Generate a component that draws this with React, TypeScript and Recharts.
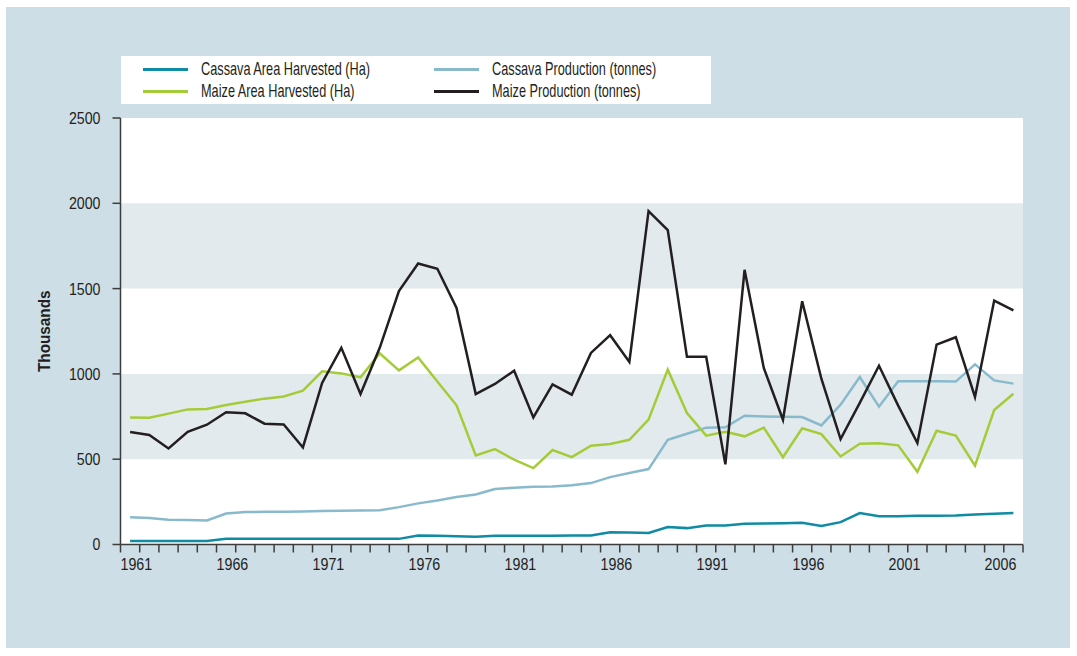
import { LineChart, Line, XAxis, YAxis, ReferenceArea } from 'recharts';

// Crop series in thousands (Ha / tonnes), 1961-2007
const years = [
  1961, 1962, 1963, 1964, 1965, 1966, 1967, 1968, 1969, 1970,
  1971, 1972, 1973, 1974, 1975, 1976, 1977, 1978, 1979, 1980,
  1981, 1982, 1983, 1984, 1985, 1986, 1987, 1988, 1989, 1990,
  1991, 1992, 1993, 1994, 1995, 1996, 1997, 1998, 1999, 2000,
  2001, 2002, 2003, 2004, 2005, 2006, 2007,
];

const cassavaArea = [
  20, 20, 20, 20, 20, 33, 33, 33, 33, 33,
  33, 33, 33, 33, 33, 53, 51, 49, 45, 52,
  52, 52, 52, 53, 53, 72, 70, 68, 102, 96,
  111, 111, 121, 123, 125, 127, 108, 131, 184, 166,
  166, 168, 168, 170, 176, 180, 184,
];

const cassavaProduction = [
  160, 156, 145, 143, 141, 182, 190, 192, 192, 194,
  196, 198, 200, 201, 219, 241, 258, 278, 293, 325,
  333, 338, 340, 348, 360, 395, 419, 442, 614, 649,
  685, 687, 755, 751, 749, 747, 698, 820, 982, 808,
  957, 957, 957, 955, 1056, 962, 943,
];

const maizeArea = [
  745, 743, 767, 792, 794, 818, 837, 855, 868, 902,
  1015, 1003, 980, 1121, 1021, 1097, 956, 816, 522, 559,
  497, 448, 554, 512, 579, 589, 614, 732, 1025, 771,
  638, 661, 634, 685, 512, 681, 647, 516, 591, 593,
  581, 426, 667, 638, 462, 788, 884,
];

const maizeProduction = [
  659, 642, 563, 661, 702, 775, 769, 708, 704, 569,
  947, 1153, 882, 1153, 1485, 1647, 1616, 1387, 882, 941,
  1019, 745, 939, 878, 1123, 1227, 1070, 1954, 1843, 1100,
  1100, 470, 1610, 1035, 731, 1426, 972, 618, 830, 1048,
  814, 595, 1172, 1215, 865, 1430, 1373,
];

const xLabels = [1961, 1966, 1971, 1976, 1981, 1986, 1991, 1996, 2001, 2006];
const yTicks = [0, 500, 1000, 1500, 2000, 2500];

const COLORS = {
  cassavaArea: '#0f8ba3',
  cassavaProduction: '#89bacc',
  maizeArea: '#a4cc38',
  maizeProduction: '#231f20',
};

// no condensed Helvetica offline: Liberation Sans squeezed horizontally instead
const FONT = "'Liberation Sans', Arial, sans-serif";
const TEXT = '#231f20';
const AXIS = '#3d3d3d';

const data = years.map((year, i) => ({
  year,
  cassavaArea: cassavaArea[i],
  cassavaProduction: cassavaProduction[i],
  maizeArea: maizeArea[i],
  maizeProduction: maizeProduction[i],
}));

// tick marks sit between years, labels start at the left edge of their year
const yearEdges = [...years.map((y) => y - 0.5), years[years.length - 1] + 0.5];

const legendItems = [
  { key: 'cassavaArea', label: 'Cassava Area Harvested (Ha)', col: 0, row: 0 },
  { key: 'maizeArea', label: 'Maize Area Harvested (Ha)', col: 0, row: 1 },
  { key: 'cassavaProduction', label: 'Cassava Production (tonnes)', col: 1, row: 0 },
  { key: 'maizeProduction', label: 'Maize Production (tonnes)', col: 1, row: 1 },
] as const;

function YearTick({ x, y, payload }: any) {
  const year = payload.value + 0.5;
  if (!xLabels.includes(year)) return <g />;
  return (
    <g transform={`translate(${x},${y + 15})`}>
      <text transform="scale(0.84,1)" textAnchor="start" fill={TEXT} fontSize={17} fontFamily={FONT}>
        {year}
      </text>
    </g>
  );
}

function ValueTick({ x, y, payload }: any) {
  return (
    <g transform={`translate(${x},${y})`}>
      <text transform="scale(0.86,1)" textAnchor="end" dy="0.36em" fill={TEXT} fontSize={16.5} fontFamily={FONT}>
        {payload.value}
      </text>
    </g>
  );
}

function ThousandsLabel({ viewBox }: any) {
  const cx = viewBox.x + 3;
  const cy = viewBox.y + viewBox.height / 2;
  return (
    <g transform={`translate(${cx},${cy}) rotate(-90)`}>
      <text
        transform="scale(0.9,1)"
        textAnchor="middle"
        dominantBaseline="central"
        fill={TEXT}
        fontSize={17}
        fontWeight="bold"
        fontFamily={FONT}
      >
        Thousands
      </text>
    </g>
  );
}

function ChartLegend() {
  return (
    <div
      style={{
        position: 'absolute',
        left: 121,
        top: 56,
        width: 590,
        height: 48,
        background: '#ffffff',
        fontFamily: FONT,
        fontSize: 19,
        color: TEXT,
      }}
    >
      {legendItems.map((item) => (
        <div
          key={item.key}
          style={{
            position: 'absolute',
            left: item.col === 0 ? 22 : 313,
            top: item.row === 0 ? 2 : 24,
            height: 22,
            display: 'flex',
            alignItems: 'center',
            whiteSpace: 'nowrap',
          }}
        >
          <span
            style={{
              display: 'inline-block',
              width: 45,
              height: 3,
              background: COLORS[item.key],
              marginRight: 13,
            }}
          />
          <span style={{ display: 'inline-block', transform: 'scaleX(0.67)', transformOrigin: 'left center' }}>
            {item.label}
          </span>
        </div>
      ))}
    </div>
  );
}

export default function App() {
  return (
    <div style={{ position: 'absolute', left: 0, top: 0, width: 1077, height: 656, background: '#ffffff' }}>
      <div style={{ position: 'absolute', left: 6, top: 7, width: 1064, height: 641, background: '#cddee6' }} />
      <ChartLegend />
      <div style={{ position: 'absolute', left: 0, top: 0 }}>
        <LineChart
          width={1077}
          height={656}
          data={data}
          margin={{ top: 118, right: 54, bottom: 71.5, left: 40.5 }}
        >
          <ReferenceArea y1={0} y2={2500} fill="#ffffff" fillOpacity={1} stroke="none" />
          <ReferenceArea y1={500} y2={1000} fill="#e2eaee" fillOpacity={1} stroke="none" />
          <ReferenceArea y1={1500} y2={2000} fill="#e2eaee" fillOpacity={1} stroke="none" />
          <XAxis
            dataKey="year"
            type="number"
            domain={[1960.5, 2007.5]}
            ticks={yearEdges}
            interval={0}
            height={40}
            tickSize={8}
            tick={<YearTick />}
            axisLine={{ stroke: AXIS, strokeWidth: 1.5 }}
            tickLine={{ stroke: AXIS, strokeWidth: 1.5 }}
          />
          <YAxis
            domain={[0, 2500]}
            ticks={yTicks}
            interval={0}
            width={80}
            tickSize={8}
            tickMargin={12}
            tick={<ValueTick />}
            axisLine={{ stroke: AXIS, strokeWidth: 1.5 }}
            tickLine={{ stroke: AXIS, strokeWidth: 1.5 }}
            label={<ThousandsLabel />}
          />
          <Line type="linear" dataKey="cassavaArea" stroke={COLORS.cassavaArea} strokeWidth={2.5} dot={false} isAnimationActive={false} />
          <Line type="linear" dataKey="cassavaProduction" stroke={COLORS.cassavaProduction} strokeWidth={2.5} dot={false} isAnimationActive={false} />
          <Line type="linear" dataKey="maizeArea" stroke={COLORS.maizeArea} strokeWidth={2.5} dot={false} isAnimationActive={false} />
          <Line type="linear" dataKey="maizeProduction" stroke={COLORS.maizeProduction} strokeWidth={2.5} dot={false} isAnimationActive={false} />
        </LineChart>
      </div>
    </div>
  );
}
